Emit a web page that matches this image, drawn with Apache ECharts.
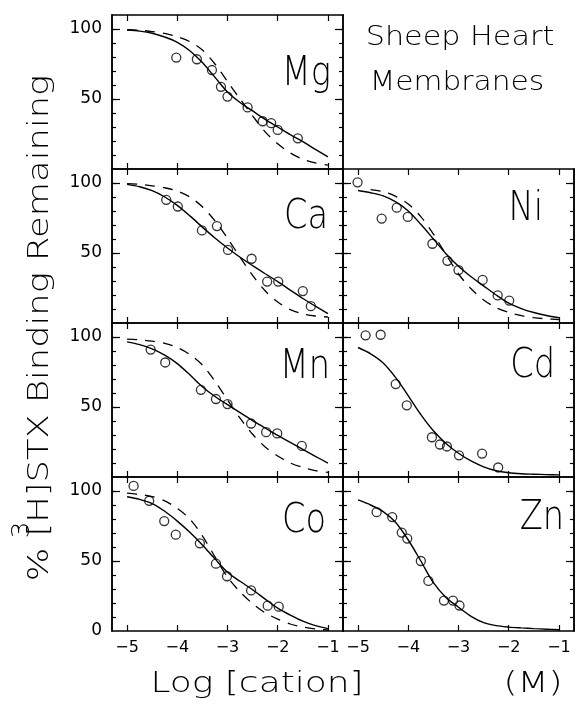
<!DOCTYPE html>
<html>
<head>
<meta charset="utf-8">
<script src="https://cdn.jsdelivr.net/npm/echarts@6/dist/echarts.min.js"></script>
<style>
  html, body { margin: 0; background: #fff; }
  #chart { width: 576px; height: 717px; }
</style>
</head>
<body>
<div id="chart"></div>
<script>
// values: x = log [cation] (M), y = % binding remaining
var xTicks = [-5, -4, -3, -2, -1];
var yMajor = [50, 100];
var yMinor = [10, 20, 30, 40, 50, 60, 70, 80, 90, 100];
// x positions where the fitted curves were read (every 0.25 log unit)
var curveX = [-5, -4.75, -4.5, -4.25, -4, -3.75, -3.5, -3.25, -3, -2.75, -2.5, -2.25, -2, -1.75, -1.5, -1.25, -1];

var mgPts = [[-4.02, 79.6], [-3.61, 78.4], [-3.31, 70.7], [-3.13, 58.7], [-3.0, 51.7], [-2.6, 44], [-2.3, 34.1], [-2.13, 32.7], [-2.0, 27.9], [-1.6, 21.9]];
var mgFit = [99.3, 98.5, 97, 94.3, 90.5, 84.5, 76, 65.5, 55, 47.5, 41.5, 35.5, 30, 24.5, 19.5, 14, 8.7];
var mgRef = [99.6, 99.1, 98.2, 96.8, 94.5, 91, 85, 75, 62.5, 50, 38, 26.5, 18, 11.5, 7, 4.3, 2.8];

var caPts = [[-4.22, 88], [-3.99, 83.2], [-3.51, 66.1], [-3.21, 69.2], [-2.99, 52.2], [-2.52, 45.9], [-2.21, 29.6], [-1.99, 29.6], [-1.5, 22.8], [-1.34, 12]];
var caFit = [99, 97.3, 94.5, 90, 84, 76.5, 68.5, 60.7, 53.6, 47, 41, 35.2, 29.6, 23.5, 17.5, 12, 6.7];
var caRef = [99.5, 99, 98, 96.6, 94.3, 90, 83, 73, 60.5, 47, 34, 23, 15, 9.5, 6.5, 5, 4.3];

var mnPts = [[-4.53, 91], [-4.24, 81.8], [-3.53, 62.3], [-3.23, 55.7], [-3.0, 52.1], [-2.53, 38.2], [-2.23, 32], [-2.01, 31.1], [-1.52, 22.2]];
var mnFit = [96.5, 94.5, 91.5, 87, 81, 73, 64.5, 57.5, 51.7, 46, 40.3, 35, 29.7, 24.7, 19.8, 14.8, 9.9];
var mnRef = [98.5, 98, 97, 95.5, 92.5, 87.5, 80, 68.5, 55, 42, 30.5, 21.5, 15, 10, 6.8, 4.6, 3.3];

var coPts = [[-4.87, 103.6], [-4.56, 93], [-4.26, 78.5], [-4.03, 68.8], [-3.55, 62.6], [-3.23, 48.1], [-3.01, 39.1], [-2.53, 29], [-2.2, 18.1], [-1.98, 17.4]];
var coFit = [95.9, 94, 91, 85.5, 78.5, 70.5, 61.5, 51.5, 42, 35.5, 29.5, 22.8, 16.3, 11.3, 7, 3.8, 1.7];
var coRef = [98.5, 97.5, 96, 93, 87.5, 80, 68, 53, 38.5, 28, 19.5, 13, 8.5, 5, 2.8, 1.5, 0.7];

var niPts = [[-5.01, 100.5], [-4.53, 74.6], [-4.23, 82.4], [-4.01, 75.8], [-3.52, 56.6], [-3.22, 44.4], [-3.0, 37.8], [-2.52, 30.8], [-2.22, 19.7], [-1.99, 16]];
var niFit = [94.6, 93, 90.8, 86.5, 80, 70.5, 60, 49.5, 40.5, 33, 26.5, 20, 14.2, 10.3, 7.5, 5.4, 3.8];
var niRef = [null, 95.3, 93.8, 90.5, 85, 76, 63.5, 49, 35, 24.5, 16.5, 11, 7.5, 5.2, 3.8, 3, 2.5];

var cdPts = [[-4.85, 101.2], [-4.55, 101.6], [-4.25, 66.4], [-4.03, 51.2], [-3.53, 28.4], [-3.37, 23.2], [-3.23, 21.8], [-2.99, 15.5], [-2.53, 16.7], [-2.21, 6.8]];
var cdFit = [92.5, 88, 81.5, 71, 58, 44.5, 33, 24, 17, 11.5, 7.3, 4.5, 3, 2.3, 2, 1.7, 1.5];

var znPts = [[-4.63, 84.9], [-4.32, 81.4], [-4.13, 70.3], [-4.02, 66], [-3.75, 50], [-3.6, 35.8], [-3.29, 21.7], [-3.11, 21.7], [-2.98, 18.2]];
var znFit = [93.6, 90, 85.3, 77.5, 65, 50, 34.5, 24, 17, 10.5, 6, 3.8, 2.8, 2.2, 1.7, 1.3, 0.9];

var panels = [
  { name: 'Mg', pts: mgPts, fit: mgFit, ref: mgRef, col: 0, row: 0, lx: 331, ly: 74 },
  { name: 'Ca', pts: caPts, fit: caFit, ref: caRef, col: 0, row: 1, lx: 328, ly: 217 },
  { name: 'Mn', pts: mnPts, fit: mnFit, ref: mnRef, col: 0, row: 2, lx: 330, ly: 367 },
  { name: 'Co', pts: coPts, fit: coFit, ref: coRef, col: 0, row: 3, lx: 326, ly: 521 },
  { name: 'Ni', pts: niPts, fit: niFit, ref: niRef, col: 1, row: 1, lx: 543, ly: 209 },
  { name: 'Cd', pts: cdPts, fit: cdFit, ref: null, col: 1, row: 2, lx: 555, ly: 366 },
  { name: 'Zn', pts: znPts, fit: znFit, ref: null, col: 1, row: 3, lx: 564, ly: 518 }
];

function minus(v) {
  return v < 0 ? '\u2212' + Math.abs(v) : String(v);
}

// pair the read curve values with their x positions, dropping gaps
function curve(vals) {
  var out = [];
  vals.forEach(function (v, k) {
    if (v !== null) out.push([curveX[k], v]);
  });
  return out;
}

function txt(text, x, y, size, sx, align, rot) {
  return {
    type: 'text', x: x, y: y, scaleX: sx, rotation: rot || 0, silent: true,
    style: {
      text: text, fontSize: size, fontFamily: 'DejaVu Sans', fontWeight: 200, fill: '#000',
      align: align, textAlign: align, verticalAlign: 'middle', textVerticalAlign: 'middle'
    }
  };
}

var chart = echarts.init(document.getElementById('chart'));
var grid = [], xAxis = [], yAxis = [], series = [];
var graphic = [
  txt('Sheep Heart', 460, 38, 27, 1.12, 'center'),
  txt('Membranes', 457, 83, 27, 1.1, 'center'),
  txt('Log [cation]', 257, 684, 29, 1.24, 'center'),
  txt('(M)', 533, 684, 29, 1.24, 'center'),
  txt('% [H]STX Binding Remaining', 41, 328, 28, 1.26, 'center', Math.PI / 2),
  txt('3', 22, 530, 25, 1.05, 'center', Math.PI / 2)
];

panels.forEach(function (p, i) {
  var left = p.col ? 343 : 112;
  var top = 15 + p.row * 154;
  grid.push({ left: left, top: top, width: 231, height: 154 });

  ['bottom', 'top'].forEach(function (pos) {
    xAxis.push({
      type: 'value', gridIndex: i, position: pos, min: -5.3, max: -0.7,
      axisLine: { show: true, onZero: false, lineStyle: { color: '#000', width: 1.5 } },
      axisTick: { show: true, inside: true, length: 6, customValues: xTicks, lineStyle: { color: '#000', width: 1.2 } },
      axisLabel: {
        show: pos === 'bottom' && p.row === 3, customValues: xTicks, formatter: minus,
        color: '#000', fontSize: 16, fontFamily: 'DejaVu Sans', margin: 9
      },
      splitLine: { show: false }
    });
  });

  [['left', yMinor, 4, false], ['left', yMajor, 8, p.col === 0],
   ['right', yMinor, 4, false], ['right', yMajor, 8, false]].forEach(function (a) {
    yAxis.push({
      type: 'value', gridIndex: i, position: a[0], min: 0, max: 110,
      axisLine: { show: true, onZero: false, lineStyle: { color: '#000', width: 1.5 } },
      axisTick: { show: true, inside: true, length: a[2], customValues: a[1], lineStyle: { color: '#000', width: 1.2 } },
      axisLabel: {
        show: a[3], customValues: p.row === 3 ? [0, 50, 100] : yMajor,
        color: '#000', fontSize: 17, fontFamily: 'DejaVu Sans', margin: 10
      },
      splitLine: { show: false }
    });
  });

  var xi = 2 * i, yi = 4 * i;
  series.push({
    type: 'line', xAxisIndex: xi, yAxisIndex: yi, data: curve(p.fit), showSymbol: false,
    smooth: 0.3, lineStyle: { color: '#000', width: 1.4 }, z: 2
  });
  if (p.ref) {
    series.push({
      type: 'line', xAxisIndex: xi, yAxisIndex: yi, data: curve(p.ref), showSymbol: false,
      smooth: 0.3, lineStyle: { color: '#000', width: 1.3, type: [10, 8] }, z: 2
    });
  }
  series.push({
    type: 'scatter', xAxisIndex: xi, yAxisIndex: yi, data: p.pts, symbol: 'circle', symbolSize: 9,
    itemStyle: { color: 'rgba(255,255,255,0)', borderColor: '#000', borderWidth: 1.3 }, z: 3
  });
  graphic.push(txt(p.name, p.lx, p.ly, 41, 0.82, 'right'));
});

chart.setOption({
  animation: false,
  backgroundColor: '#fff',
  grid: grid,
  xAxis: xAxis,
  yAxis: yAxis,
  series: series,
  graphic: graphic
});
</script>
</body>
</html>
